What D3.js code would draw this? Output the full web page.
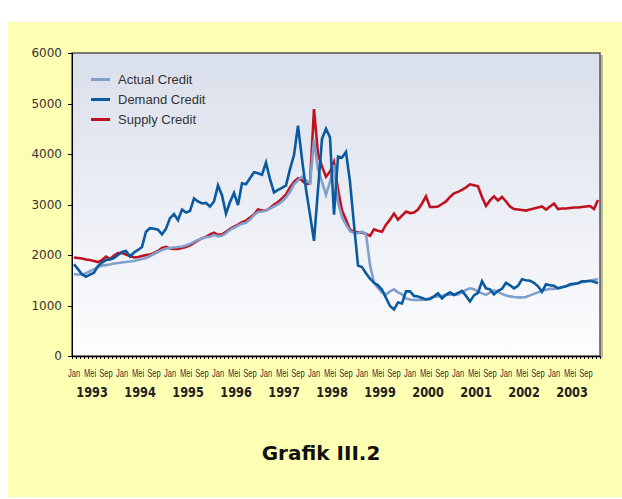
<!DOCTYPE html>
<html lang="id">
  <head>
    <meta charset="UTF-8" />
    <title>Grafik III.2</title>
    <style>
      body { margin: 0; background: #fff; }
      .axis path, .axis line { fill: none; stroke: #000; shape-rendering: crispEdges; }
      .yaxis text { font-family: "DejaVu Sans"; font-size: 12px; fill: #333; }
      .mlab { font-family: "Liberation Sans"; font-size: 10.5px; fill: #333; }
      .ylab { font-family: "DejaVu Sans Condensed", "DejaVu Sans"; font-weight: bold; font-size: 14px; fill: #222; }
      .legend text { font-family: "Liberation Sans"; font-size: 13px; fill: #333; }
    </style>
  </head>
  <body>
    <div id="app"></div>
    <script src="https://cdn.jsdelivr.net/npm/d3@7"></script>
    <script>
      // data, Jan 1993 .. Des 2003 (monthly)
      const years = [1993, 1994, 1995, 1996, 1997, 1998, 1999, 2000, 2001, 2002, 2003];
      const monthNames = ["Jan", "Feb", "Mar", "Apr", "Mei", "Jun", "Jul", "Agu", "Sep", "Okt", "Nov", "Des"];
      const shownMonths = ["Jan", "Mei", "Sep"];
      const yTicks = [0, 1000, 2000, 3000, 4000, 5000, 6000];

      const actual = [
        1620, 1615, 1610, 1640, 1680, 1720, 1760, 1790, 1800, 1810, 1830, 1840,
        1850, 1860, 1870, 1880, 1900, 1920, 1940, 1980, 2020, 2060, 2100, 2130,
        2140, 2150, 2160, 2170, 2190, 2220, 2260, 2300, 2330, 2350, 2360, 2400,
        2370, 2380, 2430, 2500, 2540, 2580, 2620, 2640, 2700, 2790, 2850, 2860,
        2880, 2920, 2960, 3000, 3060, 3140, 3250, 3400, 3480, 3550, 3480, 3420,
        4280, 3700, 3450, 3190, 3450, 3780, 3050, 2750, 2600, 2470, 2440, 2430,
        2460, 2420, 1800, 1450, 1350, 1260, 1220, 1280, 1320, 1260, 1220, 1140,
        1120, 1110, 1110, 1110, 1120, 1150, 1170, 1180, 1190, 1210, 1220, 1210,
        1220, 1260, 1310, 1340, 1320, 1280, 1240, 1210, 1260, 1300, 1270, 1230,
        1200, 1180, 1170, 1160, 1160, 1170, 1200, 1230, 1260, 1290, 1310, 1330,
        1330, 1340, 1360, 1380, 1400, 1420, 1440, 1460, 1470, 1490, 1510, 1520
      ];
      const demand = [
        1815, 1720, 1620, 1570, 1610, 1650, 1780, 1850, 1900, 1910, 1940, 2000,
        2060, 2080, 1970, 2050, 2100, 2160, 2460, 2530, 2520, 2500, 2410, 2520,
        2730, 2810, 2690, 2900, 2840, 2870, 3120, 3060, 3020, 3030, 2960, 3060,
        3380, 3180, 2820, 3050, 3230, 2990, 3420, 3400, 3520, 3640, 3620, 3590,
        3830, 3500, 3240, 3290, 3330, 3380, 3700, 3980, 4560, 3900, 3300, 2800,
        2280, 3300, 4300, 4500, 4330, 2800, 3950, 3930, 4040, 3450, 2600, 1790,
        1760, 1640, 1530, 1450, 1400, 1310, 1150, 990, 920, 1060, 1040, 1280,
        1280, 1190, 1180, 1150, 1120, 1130, 1180, 1240, 1140, 1210, 1260, 1210,
        1250, 1290, 1190, 1080, 1200, 1250, 1480, 1340, 1320, 1220, 1290, 1330,
        1450, 1400, 1340, 1390, 1520, 1500, 1490, 1450, 1380, 1270, 1420, 1400,
        1390, 1340, 1360, 1380, 1420, 1430, 1440, 1480, 1480, 1490, 1470, 1440
      ];
      const supply = [
        1950, 1940, 1930, 1910, 1900, 1880, 1860, 1900, 1970, 1920, 1990, 2040,
        2040, 2010, 1980, 1950, 1960, 1980, 2000, 2010, 2040, 2080, 2140, 2160,
        2130, 2120, 2120, 2140, 2160, 2190, 2240, 2290, 2330, 2360, 2410, 2440,
        2400, 2410, 2460, 2520, 2560, 2600, 2650, 2680, 2740, 2800, 2900, 2880,
        2880, 2930, 3000, 3050, 3120, 3200, 3340, 3450, 3520, 3480, 3400, 3420,
        4890, 4000, 3750, 3550, 3650, 3840, 3300, 2880, 2700, 2500, 2460, 2450,
        2440, 2420, 2380, 2510, 2480, 2460, 2600, 2700, 2820, 2700, 2780, 2860,
        2830, 2840, 2900, 3020, 3160, 2950, 2950, 2960, 3010, 3060, 3150, 3220,
        3250, 3290, 3340, 3400, 3380, 3360, 3150, 2970, 3080, 3160, 3080, 3150,
        3060, 2960, 2910, 2900, 2890, 2880, 2900, 2920, 2940, 2960, 2900, 2960,
        3020, 2910, 2920, 2920, 2930, 2940, 2940, 2950, 2960, 2970, 2910, 3090
      ];

      const series = [
        { name: "Actual Credit", values: actual, color: "#7f9fcc" },
        { name: "Demand Credit", values: demand, color: "#0b5a9e" },
        { name: "Supply Credit", values: supply, color: "#c0121e" }
      ];

      const months = [];
      years.forEach(yr => monthNames.forEach(m => months.push({ year: yr, month: m })));

      const W = 622, H = 499;
      const plotL = 72, plotR = 600, plotT = 53, plotB = 356;

      const svg = d3.select("#app").append("svg").attr("width", W).attr("height", H);

      // yellow panel
      svg.append("rect").attr("x", 8).attr("y", 22).attr("width", W - 8).attr("height", H - 24)
        .attr("fill", "#ffffb3");

      const defs = svg.append("defs");
      const grad = defs.append("linearGradient").attr("id", "bg").attr("x1", 0).attr("y1", 0).attr("x2", 0).attr("y2", 1);
      grad.append("stop").attr("offset", "0%").attr("stop-color", "#d9dfeb");
      grad.append("stop").attr("offset", "100%").attr("stop-color", "#fdfdfe");

      // shadow + frame
      svg.append("rect").attr("x", plotL + 2).attr("y", plotT + 2).attr("width", plotR - plotL + 1).attr("height", plotB - plotT)
        .attr("fill", "#b8b8a0");
      svg.append("rect").attr("x", plotL).attr("y", plotT).attr("width", plotR - plotL).attr("height", plotB - plotT)
        .attr("fill", "url(#bg)").attr("stroke", "#555").attr("stroke-width", 1.5);

      const x = d3.scaleLinear().domain([0, months.length]).range([plotL, plotR]);
      const y = d3.scaleLinear().domain([0, 6000]).range([plotB, plotT]);

      // y axis
      svg.append("g").attr("class", "axis yaxis")
        .attr("transform", `translate(${plotL},0)`)
        .call(d3.axisLeft(y).tickValues(yTicks).tickSize(4).tickPadding(6).tickFormat(d3.format("d")))
        .call(g => g.select(".domain").attr("stroke-width", 1.5));

      // x axis: one tick per month
      svg.append("g").attr("class", "axis")
        .attr("transform", `translate(0,${plotB})`)
        .call(d3.axisBottom(x).tickValues(d3.range(0, months.length + 1)).tickSize(3).tickSizeOuter(0).tickFormat(""))
        .call(g => g.select(".domain").attr("stroke-width", 1.5));

      // month labels (squeezed horizontally, like the condensed original)
      svg.append("g").selectAll("text")
        .data(months.map((d, i) => ({ ...d, i })).filter(d => shownMonths.includes(d.month)))
        .enter().append("text")
        .attr("class", "mlab")
        .attr("transform", d => `translate(${x(d.i + 0.5)},377) scale(0.72,1)`)
        .attr("text-anchor", "middle")
        .text(d => d.month);

      // year labels
      svg.append("g").selectAll("text")
        .data(years)
        .enter().append("text")
        .attr("class", "ylab")
        .attr("transform", (d, i) => `translate(${x(i * 12 + 5)},397) scale(0.9,1)`)
        .attr("text-anchor", "middle")
        .text(d => d);

      // lines
      const line = d3.line().x((d, i) => x(i + 0.5)).y(d => y(d));
      const drawOrder = [series[2], series[0], series[1]];
      svg.append("g").selectAll("path")
        .data(drawOrder)
        .enter().append("path")
        .attr("d", d => line(d.values))
        .attr("fill", "none")
        .attr("stroke", d => d.color)
        .attr("stroke-width", 2.6)
        .attr("stroke-linejoin", "miter");

      // legend
      const legend = svg.append("g").attr("class", "legend");
      series.forEach((s, i) => {
        const ly = 79.5 + i * 20;
        legend.append("line").attr("x1", 91).attr("x2", 110).attr("y1", ly).attr("y2", ly)
          .attr("stroke", s.color).attr("stroke-width", 3);
        legend.append("text").attr("x", 118).attr("y", ly + 4.5).text(s.name);
      });

      // title
      svg.append("text")
        .attr("x", 321).attr("y", 460)
        .attr("text-anchor", "middle")
        .attr("font-family", "DejaVu Sans")
        .attr("font-weight", "bold")
        .attr("font-size", 20)
        .attr("fill", "#111")
        .text("Grafik III.2");
    </script>
  </body>
</html>
